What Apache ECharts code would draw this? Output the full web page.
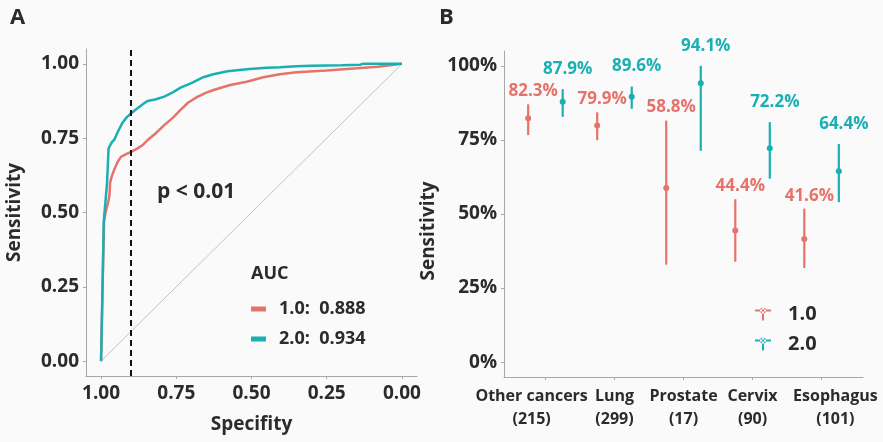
<!DOCTYPE html>
<html>
<head>
<meta charset="utf-8">
<script src="https://cdn.jsdelivr.net/npm/echarts@6/dist/echarts.min.js"></script>
<style>
html,body{margin:0;padding:0;background:#fafafa;}
#chart{width:883px;height:442px;}
</style>
</head>
<body>
<div id="chart"></div>
<script>
// ---------- Panel A data (ROC curves: [specificity, sensitivity]) ----------
const rocV1 = [
  [1.0,0.0],[0.996,0.2],[0.99,0.47],[0.985,0.5],[0.975,0.54],[0.972,0.56],[0.97,0.6],
  [0.965,0.62],[0.956,0.645],[0.945,0.67],[0.934,0.687],[0.915,0.697],[0.90,0.704],
  [0.88,0.715],[0.86,0.728],[0.846,0.743],[0.82,0.765],[0.79,0.794],[0.76,0.82],
  [0.736,0.845],[0.71,0.87],[0.68,0.889],[0.65,0.903],[0.626,0.912],[0.571,0.929],
  [0.516,0.94],[0.461,0.955],[0.406,0.965],[0.35,0.972],[0.25,0.978],[0.15,0.985],
  [0.08,0.99],[0.04,0.995],[0.0,1.0]
];
const rocV2 = [
  [1.0,0.0],[0.996,0.2],[0.991,0.47],[0.98,0.6],[0.975,0.716],[0.965,0.735],
  [0.956,0.745],[0.945,0.77],[0.93,0.80],[0.915,0.82],[0.90,0.834],[0.88,0.85],
  [0.86,0.865],[0.846,0.875],[0.82,0.88],[0.79,0.89],[0.76,0.905],[0.736,0.92],
  [0.70,0.935],[0.66,0.955],[0.627,0.965],[0.58,0.975],[0.516,0.982],[0.45,0.987],
  [0.406,0.989],[0.35,0.992],[0.30,0.994],[0.2,0.995],[0.14,0.997],[0.13,1.0],[0.0,1.0]
];
const chanceLine = [[1,0],[0,1]];
const versions = ['1.0','2.0'];
const aucValues = ['0.888','0.934'];
const cutoffSpecificity = 0.9;
const rocTicks = [0, 0.25, 0.5, 0.75, 1];

// ---------- Panel B data ----------
const cancerTypes = ['Other cancers','Lung','Prostate','Cervix','Esophagus'];
const cancerN = [215, 299, 17, 90, 101];
const sensV1 = [0.823, 0.799, 0.588, 0.444, 0.416];
const lowV1  = [0.766, 0.749, 0.329, 0.339, 0.318];
const highV1 = [0.870, 0.843, 0.815, 0.550, 0.518];
const sensV2 = [0.879, 0.896, 0.941, 0.722, 0.644];
const lowV2  = [0.828, 0.855, 0.713, 0.619, 0.540];
const highV2 = [0.921, 0.930, 1.000, 0.810, 0.736];
const pctTicks = [0, 0.25, 0.5, 0.75, 1];

const RED = '#E5736B';
const TEAL = '#1AAFB2';
const TXT = '#2b2b2b';
const AX = '#a8a8a8';
const FONT = 'Open Sans';

const chart = echarts.init(document.getElementById('chart'));

function errData(sens, low, high, shift) {
  return sens.map((v, i) => [i + shift, v, low[i], high[i]]);
}
function errRender(color, labelDy) {
  return function (params, api) {
    const x = api.value(0);
    const p = api.coord([x, api.value(1)]);
    const lo = api.coord([x, api.value(2)]);
    const hi = api.coord([x, api.value(3)]);
    return {
      type: 'group',
      children: [
        { type: 'line', shape: { x1: hi[0], y1: hi[1], x2: lo[0], y2: lo[1] },
          style: { stroke: color, lineWidth: 2.2 } },
        { type: 'circle', shape: { cx: p[0], cy: p[1], r: 3 }, style: { fill: color } },
        { type: 'text', x: hi[0] + 5, y: hi[1] - labelDy,
          style: { text: (api.value(1) * 100).toFixed(1) + '%', fill: color,
            font: 'bold 17px "' + FONT + '"', align: 'center', verticalAlign: 'middle' } }
      ]
    };
  };
}

const tickStyle = { color: TXT, fontSize: 19, fontWeight: 'bold', fontFamily: FONT };
const axisNameStyle = { color: TXT, fontSize: 19, fontWeight: 'bold', fontFamily: FONT };
const catStyle = { color: TXT, fontSize: 16, fontWeight: 'bold', fontFamily: FONT, lineHeight: 23 };
const catLabel = v => { const i = Math.round(v); return cancerTypes[i] + '\n(' + cancerN[i] + ')'; };
const lastCat = cancerTypes.length - 1;
// inner categories are labelled at their ticks; the two outer ones are nudged inward
const innerCats = cancerTypes.map((c, i) => i).filter(i => i > 0 && i < lastCat);
const outerCats = [0 - 0.2, lastCat + 0.2];

const option = {
  backgroundColor: '#fafafa',
  animation: false,
  textStyle: { fontFamily: FONT },
  title: [
    { text: 'A', left: 5, top: 2, textStyle: { fontSize: 22, fontWeight: 'bold', color: TXT, fontFamily: FONT } },
    { text: 'B', left: 434, top: 2, textStyle: { fontSize: 22, fontWeight: 'bold', color: TXT, fontFamily: FONT } },
    { text: 'AUC', left: 246, top: 260, textStyle: { fontSize: 18, fontWeight: 'bold', color: TXT, fontFamily: FONT } },
    { text: 'p < 0.01', left: 152, top: 177, textStyle: { fontSize: 21, fontWeight: 'bold', color: TXT, fontFamily: FONT } }
  ],
  legend: [
    {
      orient: 'vertical', left: 246, top: 294, itemWidth: 15, itemHeight: 5, itemGap: 10,
      icon: 'rect', selectedMode: false,
      data: versions,
      formatter: name => name + ':  ' + aucValues[versions.indexOf(name)],
      textStyle: { color: TXT, fontSize: 18, fontWeight: 'bold', fontFamily: FONT, lineHeight: 20, padding: [0,0,0,8] }
    },
    {
      orient: 'vertical', left: 750, top: 299, itemWidth: 16, itemHeight: 13, itemGap: 10,
      selectedMode: false,
      data: versions.map(v => ({ name: v,
        icon: 'path://M0,2 L16,2 L16,4 L0,4 Z M7,0 L9,0 L9,13 L7,13 Z M5,3 A3,3 0 1 0 11,3 A3,3 0 1 0 5,3 Z' })),
      textStyle: { color: TXT, fontSize: 20, fontWeight: 'bold', fontFamily: FONT, lineHeight: 20, padding: [0,0,0,12] }
    }
  ],
  grid: [
    { left: 86, top: 49, width: 331, height: 327 },
    { left: 504, top: 51, width: 359, height: 326 }
  ],
  xAxis: [
    {
      gridIndex: 0, type: 'value', position: 'bottom', min: -0.05, max: 1.05, inverse: true,
      name: 'Specifity', nameLocation: 'middle', nameGap: 39, nameTextStyle: axisNameStyle,
      axisLine: { show: true, onZero: false, lineStyle: { color: AX, width: 1 } },
      axisTick: { show: true, length: 3, customValues: rocTicks, lineStyle: { color: AX } },
      axisLabel: { customValues: rocTicks, margin: 8, formatter: v => v.toFixed(2), ...tickStyle },
      splitLine: { show: false }
    },
    {
      gridIndex: 1, type: 'value', position: 'bottom', min: -0.6, max: cancerTypes.length - 0.4,
      axisLine: { show: true, onZero: false, lineStyle: { color: AX, width: 1 } },
      axisTick: { show: true, length: 3, customValues: cancerTypes.map((c, i) => i), lineStyle: { color: AX } },
      axisLabel: { customValues: innerCats, margin: 8, showMinLabel: true, showMaxLabel: true,
        ...catStyle, formatter: catLabel },
      splitLine: { show: false }
    },
    {
      gridIndex: 1, type: 'value', position: 'bottom', offset: 0, min: -0.6, max: cancerTypes.length - 0.4,
      axisLine: { show: false, onZero: false },
      axisTick: { show: false },
      axisLabel: { customValues: outerCats, margin: 8, showMinLabel: true, showMaxLabel: true,
        ...catStyle, formatter: catLabel },
      splitLine: { show: false }
    }
  ],
  yAxis: [
    {
      gridIndex: 0, type: 'value', min: -0.05, max: 1.05,
      name: 'Sensitivity', nameLocation: 'middle', nameGap: 62, nameTextStyle: axisNameStyle,
      axisLine: { show: true, onZero: false, lineStyle: { color: AX, width: 1 } },
      axisTick: { show: true, length: 3, customValues: rocTicks, lineStyle: { color: AX } },
      axisLabel: { customValues: rocTicks, margin: 7, formatter: v => v.toFixed(2), ...tickStyle },
      splitLine: { show: false }
    },
    {
      gridIndex: 1, type: 'value', min: -0.05, max: 1.05,
      name: 'Sensitivity', nameLocation: 'middle', nameGap: 66,
      nameTextStyle: { ...axisNameStyle, padding: [0, 34, 0, 0] },
      axisLine: { show: true, onZero: false, lineStyle: { color: AX, width: 1 } },
      axisTick: { show: true, length: 3, customValues: pctTicks, lineStyle: { color: AX } },
      axisLabel: { customValues: pctTicks, margin: 7, formatter: v => Math.round(v * 100) + '%', ...tickStyle },
      splitLine: { show: false }
    }
  ],
  series: [
    {
      name: 'chance', type: 'line', xAxisIndex: 0, yAxisIndex: 0, data: chanceLine,
      showSymbol: false, silent: true, lineStyle: { color: '#c4c4c4', width: 1 },
      markLine: {
        silent: true, symbol: 'none', label: { show: false },
        lineStyle: { color: '#111', type: [6, 4], width: 2 },
        data: [{ xAxis: cutoffSpecificity }]
      }
    },
    {
      name: versions[0], type: 'line', xAxisIndex: 0, yAxisIndex: 0, data: rocV1,
      showSymbol: false, lineStyle: { color: RED, width: 2.5 }, itemStyle: { color: RED }
    },
    {
      name: versions[1], type: 'line', xAxisIndex: 0, yAxisIndex: 0, data: rocV2,
      showSymbol: false, lineStyle: { color: TEAL, width: 2.5 }, itemStyle: { color: TEAL }
    },
    {
      name: versions[0], type: 'custom', xAxisIndex: 1, yAxisIndex: 1,
      data: errData(sensV1, lowV1, highV1, -0.25), itemStyle: { color: RED },
      encode: { x: 0, y: [1, 2, 3] }, renderItem: errRender(RED, 13)
    },
    {
      name: versions[1], type: 'custom', xAxisIndex: 1, yAxisIndex: 1,
      data: errData(sensV2, lowV2, highV2, 0.25), itemStyle: { color: TEAL },
      encode: { x: 0, y: [1, 2, 3] }, renderItem: errRender(TEAL, 20)
    }
  ]
};
chart.setOption(option);
</script>
</body>
</html>
